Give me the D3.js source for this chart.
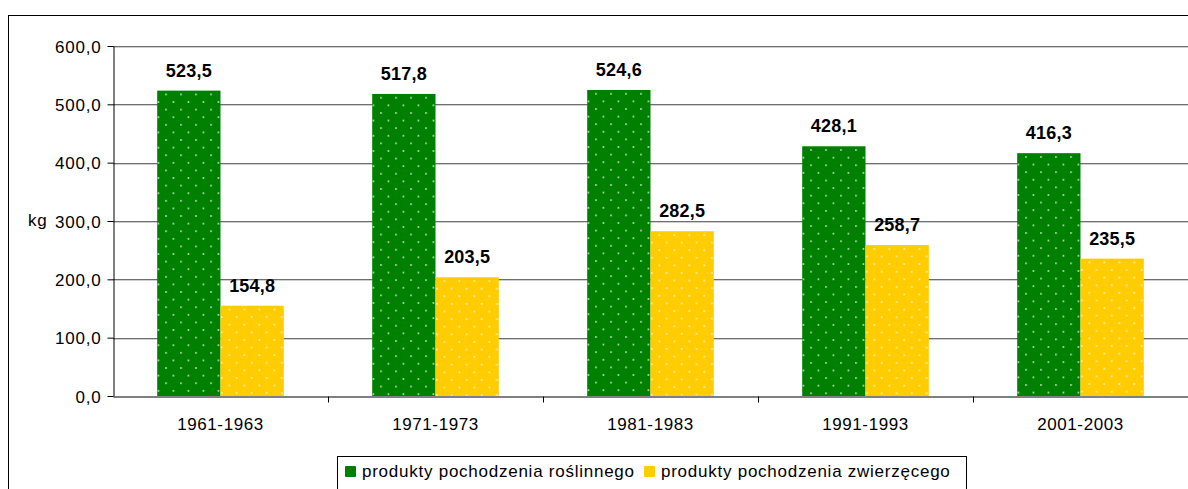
<!DOCTYPE html>
<html>
<head>
<meta charset="utf-8">
<script src="https://cdn.jsdelivr.net/npm/d3@7"></script>
<style>
  body { margin: 0; background: #fff; }
  svg { display: block; font-family: "Liberation Sans", Arial, sans-serif; }
</style>
</head>
<body>
<svg id="chart" width="1188" height="489"></svg>
<script>
var periods = ["1961-1963", "1971-1973", "1981-1983", "1991-1993", "2001-2003"];
var plantValues = [523.5, 517.8, 524.6, 428.1, 416.3];
var animalValues = [154.8, 203.5, 282.5, 258.7, 235.5];
var seriesNames = ["produkty pochodzenia roślinnego", "produkty pochodzenia zwierzęcego"];
var seriesColors = ["#008000", "#ffcc00"];
var yTicks = [0, 100, 200, 300, 400, 500, 600];

var svg = d3.select("#chart");
var width = 1188;
var plotLeft = 113, plotRight = 1188, plotTop = 46, plotBottom = 396;

var fmt = function (v) { return d3.format(".1f")(v).replace(".", ","); };

var defs = svg.append("defs");
function dotPattern(id, color, ox, oy) {
  var p = defs.append("pattern")
    .attr("id", id)
    .attr("patternUnits", "userSpaceOnUse")
    .attr("x", ox).attr("y", oy)
    .attr("width", 15).attr("height", 15.2);
  p.append("rect").attr("width", 15).attr("height", 15.2).attr("fill", color);
  p.append("rect").attr("x", 8).attr("y", 3).attr("width", 1.6).attr("height", 1.6).attr("fill", "#fff").attr("opacity", 0.8);
  p.append("rect").attr("x", 0.5).attr("y", 10.6).attr("width", 1.6).attr("height", 1.6).attr("fill", "#fff").attr("opacity", 0.8);
  return "url(#" + id + ")";
}

// outer frame
svg.append("rect")
  .attr("x", 8.5).attr("y", 15.5)
  .attr("width", 1200).attr("height", 500)
  .attr("fill", "none").attr("stroke", "#000");

var x0 = d3.scaleBand()
  .domain(periods)
  .range([plotLeft, plotRight])
  .paddingInner(0).paddingOuter(0);

var x1 = d3.scaleBand()
  .domain([0, 1])
  .range([0, x0.bandwidth()])
  .paddingInner(0).paddingOuter(0.698);

var y = d3.scaleLinear()
  .domain([0, 600])
  .range([plotBottom, plotTop]);

// gridlines (dark line with light shadow)
var grid = svg.append("g");
grid.selectAll("line.dark")
  .data(yTicks.slice(1))
  .enter().append("line")
  .attr("class", "dark")
  .attr("x1", plotLeft).attr("x2", width)
  .attr("y1", function (d) { return Math.round(y(d)) + 0.5; })
  .attr("y2", function (d) { return Math.round(y(d)) + 0.5; })
  .attr("stroke", "#6e6e6e");
grid.selectAll("line.light")
  .data(yTicks.slice(1))
  .enter().append("line")
  .attr("class", "light")
  .attr("x1", plotLeft).attr("x2", width)
  .attr("y1", function (d) { return Math.round(y(d)) + 1.5; })
  .attr("y2", function (d) { return Math.round(y(d)) + 1.5; })
  .attr("stroke", "#cfcfcf");

// bars
var groups = svg.append("g").selectAll("g")
  .data(periods)
  .enter().append("g");

groups.each(function (p, i) {
  var g = d3.select(this);
  var vals = [plantValues[i], animalValues[i]];
  vals.forEach(function (v, s) {
    var bx = x0(p) + x1(s);
    var fill = dotPattern("dots" + i + "_" + s, seriesColors[s], bx, y(v));
    g.append("rect")
      .attr("x", bx)
      .attr("y", y(v))
      .attr("width", x1.bandwidth())
      .attr("height", y(0) - y(v))
      .attr("fill", fill);
    g.append("text")
      .attr("x", bx + x1.bandwidth() / 2)
      .attr("y", y(v) - 14)
      .attr("text-anchor", "middle")
      .attr("font-size", "18px")
      .attr("font-weight", "bold")
      .attr("letter-spacing", "0.2px")
      .text(fmt(v));
  });
});

// axes
var yAxis = d3.axisLeft(y).tickValues(yTicks).tickFormat(fmt).tickSize(6).tickSizeOuter(0);
var yg = svg.append("g")
  .attr("transform", "translate(" + (plotLeft + 0.5) + ",0)")
  .call(yAxis);
yg.select(".domain").attr("stroke", "#000");
yg.selectAll(".tick line").attr("stroke", "#000");
yg.selectAll("text")
  .attr("font-size", "17px")
  .attr("letter-spacing", "0.8px")
  .attr("fill", "#000")
  .attr("font-family", "Liberation Sans, Arial, sans-serif")
  .attr("x", -12)
  .attr("dy", "0.36em");

var xAxis = d3.axisBottom(x0).tickSize(0).tickSizeOuter(0);
var xg = svg.append("g")
  .attr("transform", "translate(0," + (y(0) + 0.5) + ")")
  .call(xAxis);
xg.select(".domain").attr("stroke", "#000");
xg.selectAll("text")
  .attr("font-size", "17px")
  .attr("letter-spacing", "0.6px")
  .attr("fill", "#000")
  .attr("font-family", "Liberation Sans, Arial, sans-serif")
  .attr("y", 33)
  .attr("dy", 0);

// category separator ticks
xg.selectAll("line.sep")
  .data(periods.slice(1))
  .enter().append("line")
  .attr("class", "sep")
  .attr("x1", function (d) { return Math.round(x0(d)) + 0.5; })
  .attr("x2", function (d) { return Math.round(x0(d)) + 0.5; })
  .attr("y1", 0).attr("y2", 6)
  .attr("stroke", "#000");

// y label
svg.append("text")
  .attr("x", 28).attr("y", 226)
  .attr("font-size", "17px")
  .attr("letter-spacing", "0.8px")
  .text("kg");

// legend
var lg = svg.append("g");
lg.append("rect")
  .attr("x", 337.5).attr("y", 456.5)
  .attr("width", 629).attr("height", 40)
  .attr("fill", "#fff").attr("stroke", "#000");
var legendX = [345, 644];
seriesNames.forEach(function (n, i) {
  lg.append("rect")
    .attr("x", legendX[i]).attr("y", 466)
    .attr("width", 11).attr("height", 11)
    .attr("rx", 1)
    .attr("fill", seriesColors[i]);
  lg.append("text")
    .attr("x", legendX[i] + 17).attr("y", 477)
    .attr("font-size", "17px")
    .attr("letter-spacing", "0.75px")
    .text(n);
});
</script>
</body>
</html>
